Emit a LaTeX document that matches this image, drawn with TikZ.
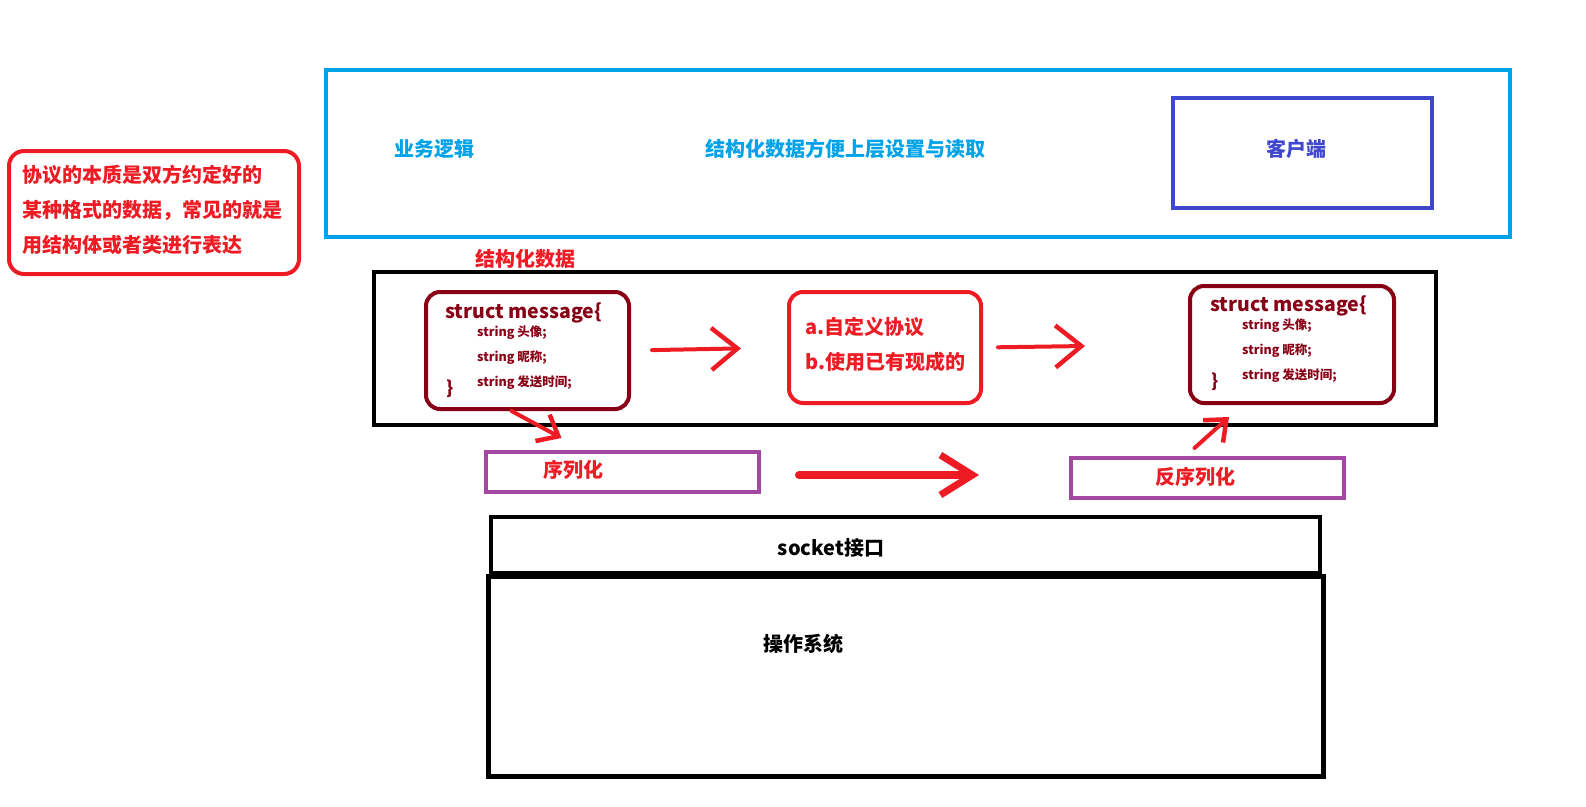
\documentclass[tikz,border=0pt]{standalone}
\usepackage{fontspec}
\setmainfont{Noto Sans CJK SC}
\usepackage{tikz}
\usetikzlibrary{arrows.meta, positioning}
\definecolor{paintblue}{RGB}{0,162,232}
\definecolor{paintindigo}{RGB}{63,72,204}
\definecolor{paintred}{RGB}{237,28,36}
\definecolor{paintmaroon}{RGB}{136,0,21}
\definecolor{paintpurple}{RGB}{163,73,164}

\begin{document}
\begin{tikzpicture}[x=1pt, y=-1pt,
    every node/.style = {inner sep=0pt, font=\bfseries\fontsize{20}{24}\selectfont},
    box/.style = {draw, line width=4pt, minimum width=#1},
    msgbox/.style = {box=#1, draw=paintmaroon, rounded corners=14pt},
    member/.style = {anchor=west, text=paintmaroon, font=\bfseries\fontsize{12.5}{15}\selectfont},
    handarrow/.style = {draw=paintred, line width=4pt, line cap=round,
        -{Straight Barb[length=26pt, width=42pt, line width=4.5pt]}},
    smallarrow/.style = {draw=paintred, line width=4pt, line cap=round,
        -{Straight Barb[length=18pt, width=30pt, line width=4.5pt]}}]
\useasboundingbox (0,0) rectangle (1586,806);

% layers
\node[box=1184pt, draw=paintblue, minimum height=167pt] (app) at (918,153.5) {};
\node[box=259pt, draw=paintindigo, line width=4.5pt, minimum height=110pt] (client) at (1302.5,153) {};
\node[text=paintindigo] (clientlabel) at (1296,149) {客户端};
\node[text=paintblue] (logic) at (434,149) {业务逻辑};
\node[text=paintblue] (usage) at (845,149) {结构化数据方便上层设置与读取};

\node[box=290pt, draw=paintred, rounded corners=15pt, minimum height=123pt] (note) at (154,212.5) {};
\foreach \txt [count=\i] in {协议的本质是双方约定好的, 某种格式的数据，常见的就是, 用结构体或者类进行表达}
    \node[anchor=west, text=paintred] (note\i) at (22,140+35*\i) {\txt};

\node[text=paintred] (datatitle) at (525,259) {结构化数据};
\node[box=1062pt, minimum height=153pt] (data) at (905,348.5) {};

% struct boxes
\node[msgbox=203pt, minimum height=117pt] (msgA) at (527.5,350.5) {};
\node[msgbox=204pt, minimum height=117pt] (msgB) at (1292,344.5) {};
\foreach \m/\x/\y in {A/445/313, B/1210/306} {
    \node[anchor=west, text=paintmaroon, font=\bfseries\fontsize{19.5}{22}\selectfont]
        (head\m) at (\x,\y) {struct message\{};
    \foreach \f [count=\i] in {头像, 昵称, 发送时间}
        \node[member] (field\m\i) at (\x+32,\y-5+25*\i) {string \f;};
    \node[anchor=west, text=paintmaroon, font=\bfseries\fontsize{18}{22}\selectfont]
        (tail\m) at (\x+1,\y+76) {\}};
}

\node[box=192pt, draw=paintred, rounded corners=14pt, minimum height=111pt] (proto) at (885,347.5) {};
\node[anchor=west, text=paintred] (protoA) at (805,327) {a.自定义协议};
\node[anchor=west, text=paintred] (protoB) at (805,362) {b.使用已有现成的};

% serialization
\node[box=273pt, draw=paintpurple, minimum height=40pt] (ser) at (622.5,472) {};
\node[text=paintred] (serlabel) at (573,470) {序列化};
\node[box=273pt, draw=paintpurple, minimum height=40pt] (deser) at (1207.5,478) {};
\node[text=paintred] (deserlabel) at (1195,477) {反序列化};

\node[box=829pt, minimum height=56pt] (socket) at (905.5,545) {};
\node (socketlabel) at (831,548) {socket接口};
\node[box=835pt, line width=5pt, minimum height=200pt] (os) at (905.5,676) {};
\node (oslabel) at (803,644) {操作系统};

% arrows
\draw[handarrow, shorten <=21pt, shorten >=46pt] (msgA.east) -- (proto.west);
\draw[handarrow, shorten <=15pt, shorten >=103pt] (proto.east) -- (msgB.west);
\draw[handarrow, line width=8pt, -{Straight Barb[length=32pt, width=40pt, line width=7pt]},
    shorten <=38pt, shorten >=90pt] ([yshift=-3pt]ser.east) -- ([yshift=3pt]deser.west);
\draw[smallarrow] ([xshift=-16pt]msgA.south) -- ([xshift=-61pt, yshift=12pt]ser.north);
\draw[smallarrow] ([xshift=-13pt, yshift=8pt]deser.north) -- ([xshift=-63pt, yshift=-12pt]msgB.south);
\end{tikzpicture}
\end{document}
